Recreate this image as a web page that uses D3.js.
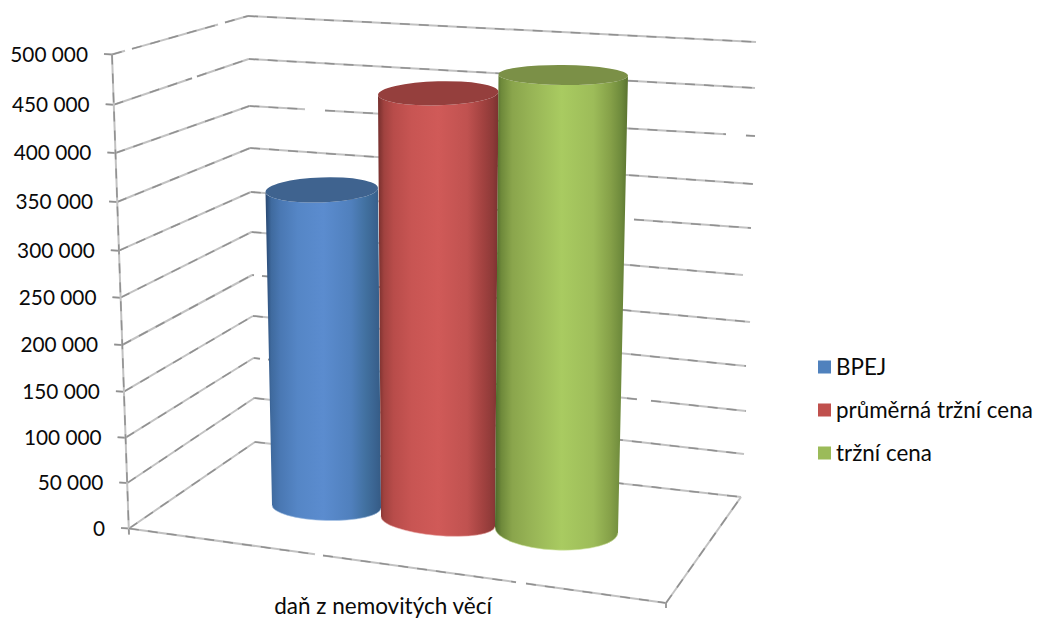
<!DOCTYPE html>
<html lang="cs">
<head>
<meta charset="utf-8">
<script src="https://cdn.jsdelivr.net/npm/d3@7/dist/d3.min.js"></script>
<style>
  html, body { margin: 0; padding: 0; background: #fff; }
  svg { display: block; }
  text { font-family: Lato, "Open Sans", sans-serif; fill: #0a0a0a; }
</style>
</head>
<body>
<svg id="chart" width="1037" height="619"></svg>
<script>
// Chart data
const category = "daň z nemovitých věcí";
const seriesNames = ["BPEJ", "průměrná tržní cena", "tržní cena"];
const seriesValues = [343000, 457000, 485000];
const tickValues = [0, 50000, 100000, 150000, 200000, 250000, 300000, 350000, 400000, 450000, 500000];

// Palette: swatch, cap, rim, and shaded stops across each cylinder's width
const swatchColors = ["#4f81bd", "#c0504d", "#9bbb59"];
const capColors = ["#3f638f", "#953f3d", "#7b9047"];
const rimColors = ["#a9c4e6", "#eba9a7", "#cfe3a0"];
const shadeStops = [
  ["#284770", "#3f6a9e", "#4a78b3", "#5586c6", "#5b8ccf", "#5080bd", "#41709f", "#3a6390", "#355b85"],
  ["#752e2c", "#a0423f", "#b84c4a", "#c85553", "#d05a58", "#c05250", "#a24240", "#8e3a38", "#7a3230"],
  ["#4d682a", "#6f8a3b", "#8aa54c", "#98b556", "#a9cb61", "#9dbc59", "#85a048", "#6e8a3c", "#5a7330"]
];
const shadeOffsets = [0, 0.05, 0.13, 0.28, 0.5, 0.74, 0.87, 0.95, 1];

// Perspective box: piecewise scales from value to each wall edge
const frontY = d3.scaleLinear().domain(tickValues).range([528.5, 483, 437.7, 391.7, 345, 297.7, 250.7, 202, 153, 104.7, 54.5]);
const frontX = d3.scaleLinear().domain([0, 500000]).range([129, 112]);
const backY = d3.scaleLinear().domain(tickValues).range([442, 398, 358, 316, 275, 232, 192, 148, 106, 59, 16]);
const backX = d3.scaleLinear().domain([0, 500000]).range([255, 248]);
const rightY = d3.scaleLinear().domain(tickValues).range([497, 454, 411, 366, 322, 275, 228, 184, 136, 88, 42]);
const rightX = d3.scaleLinear().domain(tickValues).range([741, 744, 746, 746, 750, 743, 751, 753, 755, 755, 756]);

// Interruptions in the wall lines, as [value, fromX, toX]
const lineBreaks = [
  [500000, 125, 132], [500000, 218, 225], [450000, 192, 197],
  [400000, 305, 325], [400000, 726, 746], [300000, 624, 634],
  [200000, 254, 262], [100000, 260, 268], [100000, 637, 651]
];

// Cylinder geometry by series position
const edgeBase = d3.scaleLinear().domain([0, 1, 2, 3]).range([272, 381, 495, 618]);
const edgeTop = d3.scaleLinear().domain([0, 1, 2, 3]).range([265.5, 378, 498.5, 628]);
const floorY = d3.scaleLinear().domain([0, 1, 2]).range([506.5, 521.5, 530]);
const ceilingY = d3.scaleLinear().domain([0, 2]).range([45, 61]);
const baseRy = d3.scaleLinear().domain([0, 1, 2]).range([14, 14, 20]);
const baseTilt = d3.scaleLinear().domain([0, 1, 2]).range([1.5, 5, 2.5]);
const capRy = d3.scaleLinear().domain([0, 1, 2]).range([12.5, 12, 10]);
const capTilt = d3.scaleLinear().domain([0, 1, 2]).range([-2, -1.5, 0.6]);

const svg = d3.select("#chart");
const defs = svg.append("defs");
const wall = svg.append("g");
const bars = svg.append("g");
const labels = svg.append("g");

// A mottled gray rule: light base with a darker dashed overlay
function rule(x1, y1, x2, y2) {
  wall.append("line").attr("x1", x1).attr("y1", y1).attr("x2", x2).attr("y2", y2)
    .attr("stroke", "#c2c2c2").attr("stroke-width", 2);
  wall.append("line").attr("x1", x1).attr("y1", y1).attr("x2", x2).attr("y2", y2)
    .attr("stroke", "#909090").attr("stroke-width", 1.5).attr("stroke-dasharray", "10 9");
}

// Rule with gaps taken out of its horizontal span
function brokenRule(x1, y1, x2, y2, gaps) {
  const at = d3.scaleLinear().domain([x1, x2]).range([y1, y2]);
  let cursor = x1;
  gaps.filter(g => g[0] >= x1 && g[1] <= x2).sort((a, b) => a[0] - b[0]).forEach(g => {
    rule(cursor, at(cursor), g[0], at(g[0]));
    cursor = g[1];
  });
  rule(cursor, at(cursor), x2, at(x2));
}

tickValues.forEach(v => {
  const gaps = lineBreaks.filter(b => b[0] === v).map(b => [b[1], b[2]]);
  brokenRule(frontX(v), frontY(v), backX(v), backY(v), gaps);
  brokenRule(backX(v), backY(v), rightX(v), rightY(v), gaps);
  rule(frontX(v) - 8, frontY(v) - 0.5, frontX(v), frontY(v));
});

// Vertical axis, floor edges and corner tick
rule(frontX(500000), frontY(500000), frontX(0), frontY(0) + 6);
brokenRule(frontX(0), frontY(0), 666, 603, [[315, 323], [516, 526]]);
rule(666, 603, rightX(0), rightY(0));
rule(666, 603, 666, 608);

// Cylinders
seriesValues.forEach((value, i) => {
  const valueY = d3.scaleLinear().domain([0, 500000]).range([floorY(i), ceilingY(i)]);
  const capY = valueY(value);
  const capL = edgeTop(i), capR = edgeTop(i + 1);
  const baseL = edgeBase(i), baseR = edgeBase(i + 1);
  const capCx = (capL + capR) / 2;
  const capRx = (capR - capL) / 2, baseRx = (baseR - baseL) / 2;
  const slope = a => Math.tan(a * Math.PI / 180);
  const capDy = capRx * slope(capTilt(i));
  const baseDy = baseRx * slope(baseTilt(i));

  const grad = defs.append("linearGradient").attr("id", "shade" + i);
  shadeStops[i].forEach((c, k) => {
    grad.append("stop").attr("offset", shadeOffsets[k]).attr("stop-color", c);
  });

  const bottomArc = `A${baseRx},${baseRy(i)} ${baseTilt(i)} 0 0 ${baseR},${floorY(i) + baseDy}`;
  const body = [
    `M${capL},${capY - capDy}`,
    `L${baseL},${floorY(i) - baseDy}`,
    bottomArc,
    `L${capR},${capY + capDy}`,
    `A${capRx},${capRy(i)} ${capTilt(i)} 1 1 ${capL},${capY - capDy}`,
    "Z"
  ].join(" ");

  bars.append("path").attr("d", body).attr("fill", `url(#shade${i})`);
  bars.append("path")
    .attr("d", `M${baseL},${floorY(i) - baseDy} ${bottomArc}`)
    .attr("fill", "none")
    .attr("stroke", rimColors[i]).attr("stroke-width", 1).attr("stroke-opacity", 0.55);
  bars.append("ellipse")
    .attr("cx", capCx).attr("cy", capY)
    .attr("rx", capRx).attr("ry", capRy(i))
    .attr("transform", `rotate(${capTilt(i)} ${capCx} ${capY})`)
    .attr("fill", capColors[i]);
});

// Value labels on the vertical axis
labels.selectAll("text.tick").data(tickValues).join("text")
  .attr("class", "tick")
  .attr("x", v => frontX(v) - 24)
  .attr("y", v => frontY(v))
  .attr("dy", "0.35em")
  .attr("text-anchor", "end")
  .attr("font-size", 20.8)
  .text(v => d3.format(",")(v).replace(/,/g, " "));

// Category label
labels.append("text")
  .attr("x", 383).attr("y", 614)
  .attr("text-anchor", "middle")
  .attr("font-size", 22.5)
  .text(category);

// Legend
const legendY = d3.scalePoint().domain(seriesNames).range([367, 453]);
const legend = labels.selectAll("g.legend").data(seriesNames).join("g")
  .attr("class", "legend")
  .attr("transform", d => `translate(818,${legendY(d)})`);
legend.append("rect")
  .attr("x", 0).attr("y", -6.5).attr("width", 13).attr("height", 13)
  .attr("fill", (d, i) => swatchColors[i]);
legend.append("text")
  .attr("x", 18).attr("dy", "0.35em")
  .attr("font-size", 22.4)
  .text(d => d);
</script>
</body>
</html>
